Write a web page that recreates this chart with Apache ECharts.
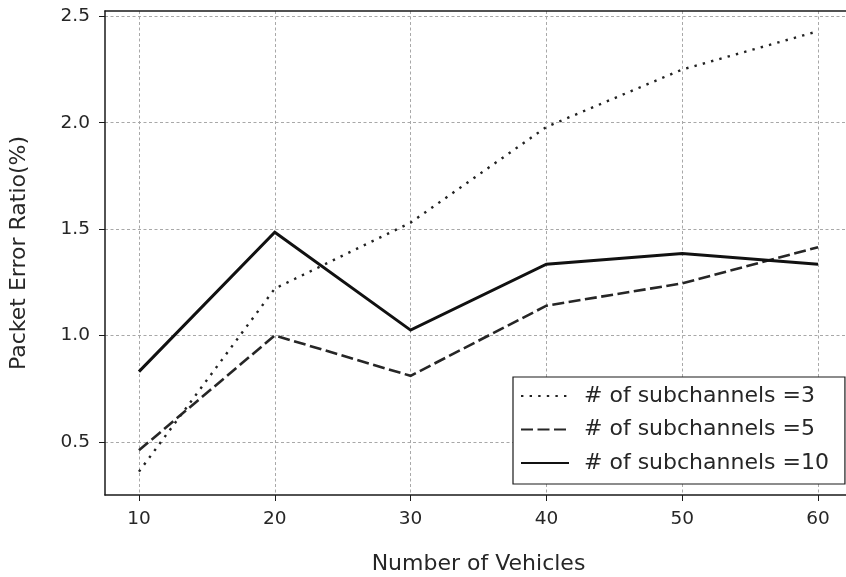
<!DOCTYPE html>
<html>
<head>
<meta charset="utf-8">
<script src="https://cdn.jsdelivr.net/npm/echarts@6/dist/echarts.min.js"></script>
<style>
  html, body { margin: 0; padding: 0; background: #ffffff; }
  #chart { width: 846px; height: 577px; }
</style>
</head>
<body>
<div id="chart"></div>
<script>
// Packet error ratio versus number of vehicles, for three subchannel counts
const vehicles = [10, 20, 30, 40, 50, 60];
const perSub3 = [0.36, 1.22, 1.53, 1.98, 2.25, 2.43];
const perSub5 = [0.46, 1.00, 0.81, 1.14, 1.245, 1.415];
const perSub10 = [0.83, 1.485, 1.025, 1.335, 1.385, 1.335];
const seriesNames = ['# of subchannels =3', '# of subchannels =5', '# of subchannels =10'];
const xTicks = [10, 20, 30, 40, 50, 60];
const yTicks = [0.5, 1.0, 1.5, 2.0, 2.5];

const FONT = 'DejaVu Sans';
const TEXT = '#262626';
const SPINE = { color: '#1a1a1a', width: 1.5 };

function pairs(ys) {
  return vehicles.map((v, i) => [v, ys[i]]);
}

function lineSeries(name, ys, width, type, color) {
  return {
    name: name,
    type: 'line',
    xAxisIndex: 0,
    data: pairs(ys),
    symbol: 'none',
    showSymbol: false,
    smooth: false,
    animation: false,
    lineStyle: { width: width, type: type, color: color, cap: 'butt', join: 'miter' },
    itemStyle: { color: color },
    emphasis: { disabled: true }
  };
}

const chart = echarts.init(document.getElementById('chart'), null, { renderer: 'canvas' });

const gridLine = { show: true, lineStyle: { color: '#a8a8a8', width: 1, type: [3, 2.5] } };

chart.setOption({
  backgroundColor: '#ffffff',
  animation: false,
  grid: {
    left: 105, top: 11, width: 747, height: 484,
    outerBoundsMode: 'none',
    containLabel: false,
    show: false
  },
  xAxis: [{
    type: 'value',
    position: 'bottom',
    min: 7.5, max: 62.5,
    name: 'Number of Vehicles',
    nameLocation: 'middle',
    nameGap: 58,
    nameTextStyle: { fontFamily: FONT, fontSize: 22, color: TEXT },
    axisLine: { show: true, onZero: false, lineStyle: SPINE },
    axisTick: { show: true, inside: false, length: 6, customValues: xTicks, lineStyle: { color: '#1a1a1a', width: 1 } },
    axisLabel: { show: true, customValues: xTicks, margin: 15, fontFamily: FONT, fontSize: 18.5, color: TEXT },
    splitLine: gridLine
  }, {
    // top frame edge
    type: 'value',
    position: 'top',
    min: 7.5, max: 62.5,
    axisLine: { show: true, onZero: false, lineStyle: SPINE },
    axisTick: { show: false },
    axisLabel: { show: false },
    splitLine: { show: false }
  }],
  yAxis: {
    type: 'value',
    min: 0.25, max: 2.525,
    name: 'Packet Error Ratio(%)',
    nameLocation: 'middle',
    nameRotate: 90,
    nameGap: 75,
    nameTextStyle: { fontFamily: FONT, fontSize: 22, color: TEXT },
    axisLine: { show: true, onZero: false, lineStyle: SPINE },
    axisTick: { show: true, inside: false, length: 6, customValues: yTicks, lineStyle: { color: '#1a1a1a', width: 1 } },
    axisLabel: {
      show: true, customValues: yTicks, margin: 15, fontFamily: FONT, fontSize: 18.5, color: TEXT,
      formatter: v => Number(v).toFixed(1)
    },
    splitLine: gridLine
  },
  legend: {
    orient: 'vertical',
    left: 513, top: 377,
    padding: [8, 16, 10, 7],
    backgroundColor: '#ffffff',
    borderColor: '#1a1a1a',
    borderWidth: 1.2,
    borderRadius: 0,
    itemWidth: 48,
    itemHeight: 14,
    itemGap: 11.5,
    selectedMode: false,
    itemStyle: { opacity: 0 },
    textStyle: { fontFamily: FONT, fontSize: 22, color: TEXT, lineHeight: 22, padding: [0, 0, 0, 10] },
    data: seriesNames.map(n => ({ name: n }))
  },
  series: [
    lineSeries(seriesNames[0], perSub3, 2.4, [2.4, 6.2], '#222222'),
    lineSeries(seriesNames[1], perSub5, 2.6, [12, 4.5], '#262626'),
    lineSeries(seriesNames[2], perSub10, 3, 'solid', '#111111')
  ]
});
</script>
</body>
</html>
